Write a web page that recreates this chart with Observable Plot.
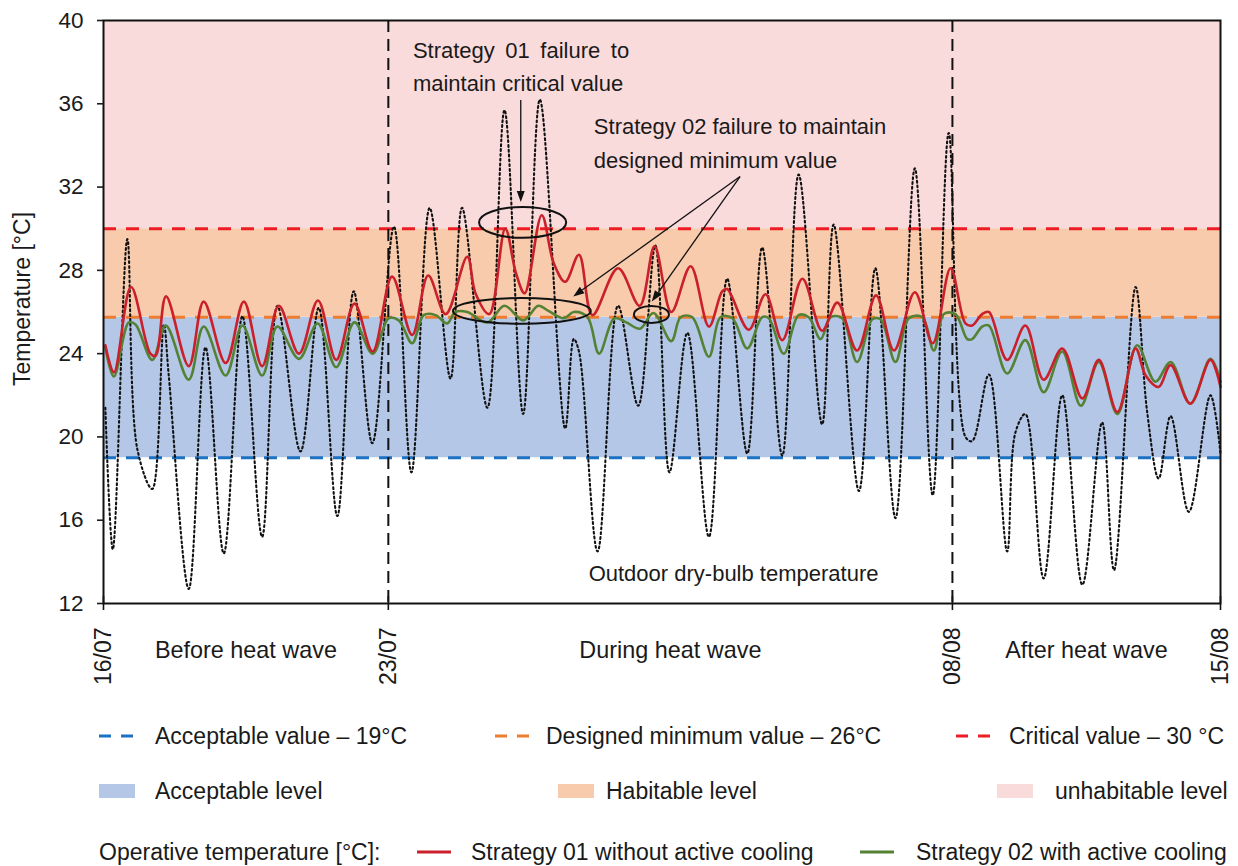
<!DOCTYPE html>
<html>
<head>
<meta charset="utf-8">
<script src="https://cdn.jsdelivr.net/npm/d3@7"></script>
<script src="https://cdn.jsdelivr.net/npm/@observablehq/plot@0.6"></script>
<style>
  html,body{margin:0;padding:0;background:#fff;}
  #page{position:relative;width:1238px;height:866px;font-family:"Liberation Sans",Arial,sans-serif;color:#1a1a1a;overflow:hidden;}
  #chart{position:absolute;left:0;top:0;}
  .lg{position:absolute;font-size:23px;line-height:23px;white-space:nowrap;transform:translateY(-50%);}
  .sw{position:absolute;transform:translateY(-50%);display:block;}
</style>
</head>
<body>
<div id="page"><div id="chart"></div><div id="legend"></div></div>
<script>
// ---------------- DATA ----------------
// x: days since 16/07 (as laid out on the original axis), y: temperature in °C
const tickDays   = [0, 7.65, 22.8, 30];
const tickLabels = ["16/07", "23/07", "08/08", "15/08"];
const periodLabels = ["Before heat wave", "During heat wave", "After heat wave"];
const yTicks = [12, 16, 20, 24, 28, 32, 36, 40];
const thresholds = [19, 25.75, 30];          // acceptable, designed minimum, critical
const thresholdLabels = ["Acceptable value – 19°C", "Designed minimum value – 26°C", "Critical value – 30 °C"];
const bandLabels = ["Acceptable level", "Habitable level", "unhabitable level"];
const yMax = 40;

const outdoor = [
  [0.05,21.4],[0.25,14.6],[0.64,29.5],[0.91,19.4],[1.31,17.5],[1.62,25.4],[1.75,23.0],[2.29,12.7],
  [2.74,24.3],[3.23,14.4],[3.73,25.8],[4.26,15.2],[4.67,26.3],[5.29,19.3],[5.78,26.2],[6.28,16.2],
  [6.72,27.0],[7.22,19.7],[7.80,30.1],[8.27,18.3],[8.76,31.0],[9.32,22.8],[9.63,31.0],[10.31,21.4],
  [10.77,35.7],[11.27,21.1],[11.72,36.2],[12.40,20.4],[12.63,24.7],[12.77,24.1],[13.27,14.5],[13.82,26.3],
  [14.36,21.5],[14.82,29.2],[15.20,18.3],[15.68,25.0],[16.26,15.2],[16.75,27.6],[17.29,19.2],[17.69,29.1],
  [18.23,19.1],[18.67,32.6],[19.30,20.6],[19.61,30.2],[20.29,17.4],[20.73,28.1],[21.27,16.1],[21.79,32.9],
  [22.27,17.2],[22.70,34.6],[23.15,20.0],[23.33,19.8],[23.78,23.0],[24.27,14.5],[24.49,20.2],[24.76,21.1],
  [25.25,13.2],[25.75,22.0],[26.29,12.9],[26.82,20.7],[27.14,13.6],[27.72,27.2],[28.03,21.2],[28.34,18.0],
  [28.66,21.0],[29.15,16.4],[29.73,22.0],[30.0,19.2]
];

const strategy01 = [
  [0.05,24.4],[0.28,23.1],[0.74,27.2],[1.26,24.0],[1.40,23.9],[1.68,26.75],[2.29,23.4],[2.69,26.5],
  [3.28,23.55],[3.77,26.5],[4.26,23.4],[4.71,26.3],[5.25,24.0],[5.76,26.55],[6.25,23.7],[6.74,26.4],
  [7.23,24.1],[7.75,27.7],[8.29,24.9],[8.72,27.75],[9.19,25.9],[9.77,28.65],[9.99,26.9],[10.36,25.9],
  [10.79,30.0],[11.08,27.85],[11.31,26.9],[11.77,30.65],[12.09,28.35],[12.40,27.45],[12.77,28.75],[13.13,25.85],
  [13.82,28.1],[14.40,26.3],[14.80,29.15],[15.25,26.0],[15.77,28.2],[16.26,25.3],[16.62,27.0],[16.75,27.1],
  [17.33,25.15],[17.78,26.85],[18.23,24.65],[18.77,27.6],[19.30,25.1],[19.71,26.45],[20.24,24.15],[20.75,26.8],
  [21.23,24.15],[21.79,26.95],[22.27,24.5],[22.75,28.1],[23.15,25.45],[23.33,25.35],[23.60,25.9],[23.78,26.0],
  [24.27,23.7],[24.76,25.35],[25.25,22.75],[25.75,24.25],[26.29,21.85],[26.73,23.7],[27.23,21.2],[27.72,24.25],
  [27.99,22.95],[28.34,22.4],[28.66,23.45],[29.19,21.6],[29.73,23.7],[30.0,22.4]
];

const strategy02 = [
  [0.05,24.3],[0.28,22.9],[0.68,25.5],[0.86,25.4],[1.31,23.7],[1.67,25.35],[2.29,22.75],[2.69,25.3],
  [3.28,22.95],[3.73,25.35],[4.26,22.95],[4.67,25.3],[5.25,23.75],[5.75,25.45],[6.25,23.35],[6.74,25.5],
  [7.23,24.0],[7.66,25.7],[7.93,25.6],[8.29,24.5],[8.60,25.85],[8.92,25.85],[9.23,25.45],[9.45,26.0],
  [9.77,26.0],[10.31,25.5],[10.77,26.3],[11.27,25.6],[11.68,26.3],[11.95,26.05],[12.36,25.7],[12.63,26.0],
  [13.0,25.75],[13.31,24.0],[13.72,25.7],[14.04,25.5],[14.41,25.2],[14.77,25.95],[15.25,24.6],[15.50,25.75],
  [15.81,25.75],[16.26,23.85],[16.57,25.75],[16.89,25.7],[17.29,24.25],[17.69,25.75],[17.87,25.7],[18.27,24.0],
  [18.67,25.85],[18.94,25.75],[19.26,24.7],[19.53,25.75],[19.84,25.7],[20.24,23.6],[20.65,25.65],[20.87,25.65],
  [21.27,23.6],[21.63,25.7],[21.99,25.75],[22.30,24.15],[22.57,25.9],[22.88,25.9],[23.20,24.7],[23.33,24.7],
  [23.60,25.3],[23.78,25.35],[24.27,23.05],[24.76,24.65],[25.25,22.15],[25.75,24.1],[26.25,21.5],[26.73,23.6],
  [27.23,21.1],[27.76,24.4],[28.25,22.65],[28.66,23.6],[29.19,21.6],[29.73,23.75],[30.0,22.65]
];

const annotationTexts = [
  {d: 8.31, t: 37.91, text: "Strategy \u200901 \u2009failure \u2009to\nmaintain critical value"},
  {d: 13.17, t: 34.24, text: "Strategy 02 failure to maintain\ndesigned minimum value"},
  {d: 13.03, t: 13.6, text: "Outdoor dry-bulb temperature"}
];
const annotationEllipses = [
  {d: 11.27, t: 30.28, rd: 1.17, rt: 0.74},
  {d: 11.25, t: 26.03, rd: 1.85, rt: 0.62},
  {d: 14.73, t: 25.86, rd: 0.47, rt: 0.41}
];
const annotationArrows = [
  {d1: 11.22, t1: 36.16, d2: 11.22, t2: 31.26},
  {d1: 17.11, t1: 32.48, d2: 12.63, t2: 26.72},
  {d1: 17.11, t1: 32.48, d2: 14.74, t2: 26.48}
];

const seriesLabels = ["Strategy 01 without active cooling", "Strategy 02 with active cooling"];
const operativeLabel = "Operative temperature [°C]:";
const yLabel = "Temperature [°C]";

// ---------------- STYLE ----------------
const C = {
  bands: ["#b4c7e7", "#f8cbad", "#fadbdc"],
  thr: ["#1b72c2", "#ed7d31", "#ee1c25"],
  s01: "#c9202b", s02: "#548235", outdoor: "#111111", ink: "#1a1a1a"
};
const FONT = "'Liberation Sans', Arial, sans-serif";

// ---------------- BUILD ----------------
const toObj = a => a.map(([d, t]) => ({d, t}));
const xDomain = [tickDays[0], tickDays[tickDays.length - 1]];
const boundaries = tickDays.slice(1, -1);
const periods = periodLabels.map((label, i) => ({label, d: (tickDays[i] + tickDays[i + 1]) / 2}));
const bandEdges = [...thresholds, yMax];
const bands = bandLabels.map((name, i) => ({name, lo: bandEdges[i], hi: bandEdges[i + 1]}));

const W = 1238, H = 700, mT = 20, mB = 97, mL = 103, mR = 18;
const frameH = H - mT - mB;

function annotationMark(index, scales) {
  const sx = scales.x, sy = scales.y;
  const g = d3.create("svg:g");
  for (const e of annotationEllipses) {
    g.append("ellipse")
      .attr("cx", sx(e.d)).attr("cy", sy(e.t))
      .attr("rx", Math.abs(sx(e.d + e.rd) - sx(e.d)))
      .attr("ry", Math.abs(sy(e.t + e.rt) - sy(e.t)))
      .attr("fill", "none").attr("stroke", "#111").attr("stroke-width", 2);
  }
  for (const a of annotationArrows) {
    const x1 = sx(a.d1), y1 = sy(a.t1), x2 = sx(a.d2), y2 = sy(a.t2);
    const ang = Math.atan2(y2 - y1, x2 - x1), L = 11, hw = 4;
    const bx = x2 - L * Math.cos(ang), by = y2 - L * Math.sin(ang);
    g.append("line").attr("x1", x1).attr("y1", y1).attr("x2", bx).attr("y2", by)
      .attr("stroke", "#111").attr("stroke-width", 1.3);
    g.append("path")
      .attr("d", `M${x2},${y2}L${bx - hw * Math.sin(ang)},${by + hw * Math.cos(ang)}L${bx + hw * Math.sin(ang)},${by - hw * Math.cos(ang)}Z`)
      .attr("fill", "#111");
  }
  return g.node();
}

const chart = Plot.plot({
  width: W, height: H,
  marginTop: mT, marginBottom: mB, marginLeft: mL, marginRight: mR,
  style: {fontFamily: FONT, color: C.ink, background: "white", overflow: "visible"},
  x: {domain: xDomain},
  y: {domain: [12, yMax]},
  marks: [
    ...bands.map((b, i) => Plot.rect([b], {x1: () => xDomain[0], x2: () => xDomain[1], y1: "lo", y2: "hi", fill: C.bands[i]})),
    ...thresholds.map((t, i) => Plot.ruleY([t], {stroke: C.thr[i], strokeWidth: 3, strokeDasharray: "13,10"})),
    Plot.ruleX(boundaries, {stroke: "#111", strokeWidth: 2, strokeDasharray: "12,7"}),
    Plot.line(toObj(outdoor), {x: "d", y: "t", curve: "catmull-rom", stroke: C.outdoor, strokeWidth: 2.1, strokeDasharray: "1.8,3"}),
    Plot.line(toObj(strategy02), {x: "d", y: "t", curve: "catmull-rom", stroke: C.s02, strokeWidth: 2.6}),
    Plot.line(toObj(strategy01), {x: "d", y: "t", curve: "catmull-rom", stroke: C.s01, strokeWidth: 2.6}),
    annotationMark,
    Plot.text(annotationTexts, {x: "d", y: "t", text: "text", textAnchor: "start", fontSize: 22, lineHeight: 1.52, fill: C.ink}),
    Plot.text(periods, {x: "d", frameAnchor: "bottom", dy: 54, text: "label", fontSize: 23.4, fill: C.ink}),
    Plot.text([yLabel], {frameAnchor: "left", textAnchor: "middle", rotate: -90, dx: -81, dy: -13, text: d => d, fontSize: 23, fill: C.ink}),
    Plot.tickX(tickDays, {x: d => d, insetTop: frameH - 7, insetBottom: -7, stroke: "#111", strokeWidth: 1.6}),
    Plot.frame({stroke: "#111", strokeWidth: 2}),
    Plot.axisY(yTicks, {tickSize: 6, tickPadding: 14, fontSize: 22.5, label: null, strokeWidth: 1.6}),
    Plot.axisX(tickDays, {tickSize: 0, tickPadding: 24, tickRotate: -90, fontSize: 23, label: null,
      tickFormat: d => tickLabels[tickDays.indexOf(d)]})
  ]
});
document.getElementById("chart").appendChild(chart);

// ---------------- LEGEND (HTML below the SVG) ----------------
const legend = document.getElementById("legend");
const rowY = [736, 791, 852];
function addText(txt, x, y) {
  const el = document.createElement("div");
  el.className = "lg"; el.textContent = txt;
  el.style.left = x + "px"; el.style.top = y + "px";
  legend.appendChild(el);
}
function addSwatch(kind, color, x, y) {
  const ns = "http://www.w3.org/2000/svg";
  const svg = document.createElementNS(ns, "svg");
  svg.setAttribute("class", "sw");
  svg.setAttribute("width", 36); svg.setAttribute("height", 14);
  svg.style.left = x + "px"; svg.style.top = y + "px";
  let el;
  if (kind === "dash") {
    el = document.createElementNS(ns, "line");
    el.setAttribute("x1", 0); el.setAttribute("x2", 34); el.setAttribute("y1", 7); el.setAttribute("y2", 7);
    el.setAttribute("stroke", color); el.setAttribute("stroke-width", 3.2); el.setAttribute("stroke-dasharray", "12,10");
  } else if (kind === "rect") {
    el = document.createElementNS(ns, "rect");
    el.setAttribute("x", 0); el.setAttribute("y", 0); el.setAttribute("width", 36); el.setAttribute("height", 14);
    el.setAttribute("fill", color);
  } else {
    el = document.createElementNS(ns, "line");
    el.setAttribute("x1", 0); el.setAttribute("x2", 34); el.setAttribute("y1", 7); el.setAttribute("y2", 7);
    el.setAttribute("stroke", color); el.setAttribute("stroke-width", 3.2);
  }
  svg.appendChild(el);
  legend.appendChild(svg);
}
const row1Pos = [[99, 155], [495, 546], [956, 1009]];
thresholdLabels.forEach((lab, i) => { addSwatch("dash", C.thr[i], row1Pos[i][0], rowY[0]); addText(lab, row1Pos[i][1], rowY[0]); });
const row2Pos = [[99, 155], [558, 606], [997, 1055]];
bandLabels.forEach((lab, i) => { addSwatch("rect", C.bands[i], row2Pos[i][0], rowY[1]); addText(lab, row2Pos[i][1], rowY[1]); });
addText(operativeLabel, 99, rowY[2]);
const row3Pos = [[417, 471], [860, 916]];
const seriesColors = [C.s01, C.s02];
seriesLabels.forEach((lab, i) => { addSwatch("line", seriesColors[i], row3Pos[i][0], rowY[2]); addText(lab, row3Pos[i][1], rowY[2]); });
</script>
</body>
</html>
